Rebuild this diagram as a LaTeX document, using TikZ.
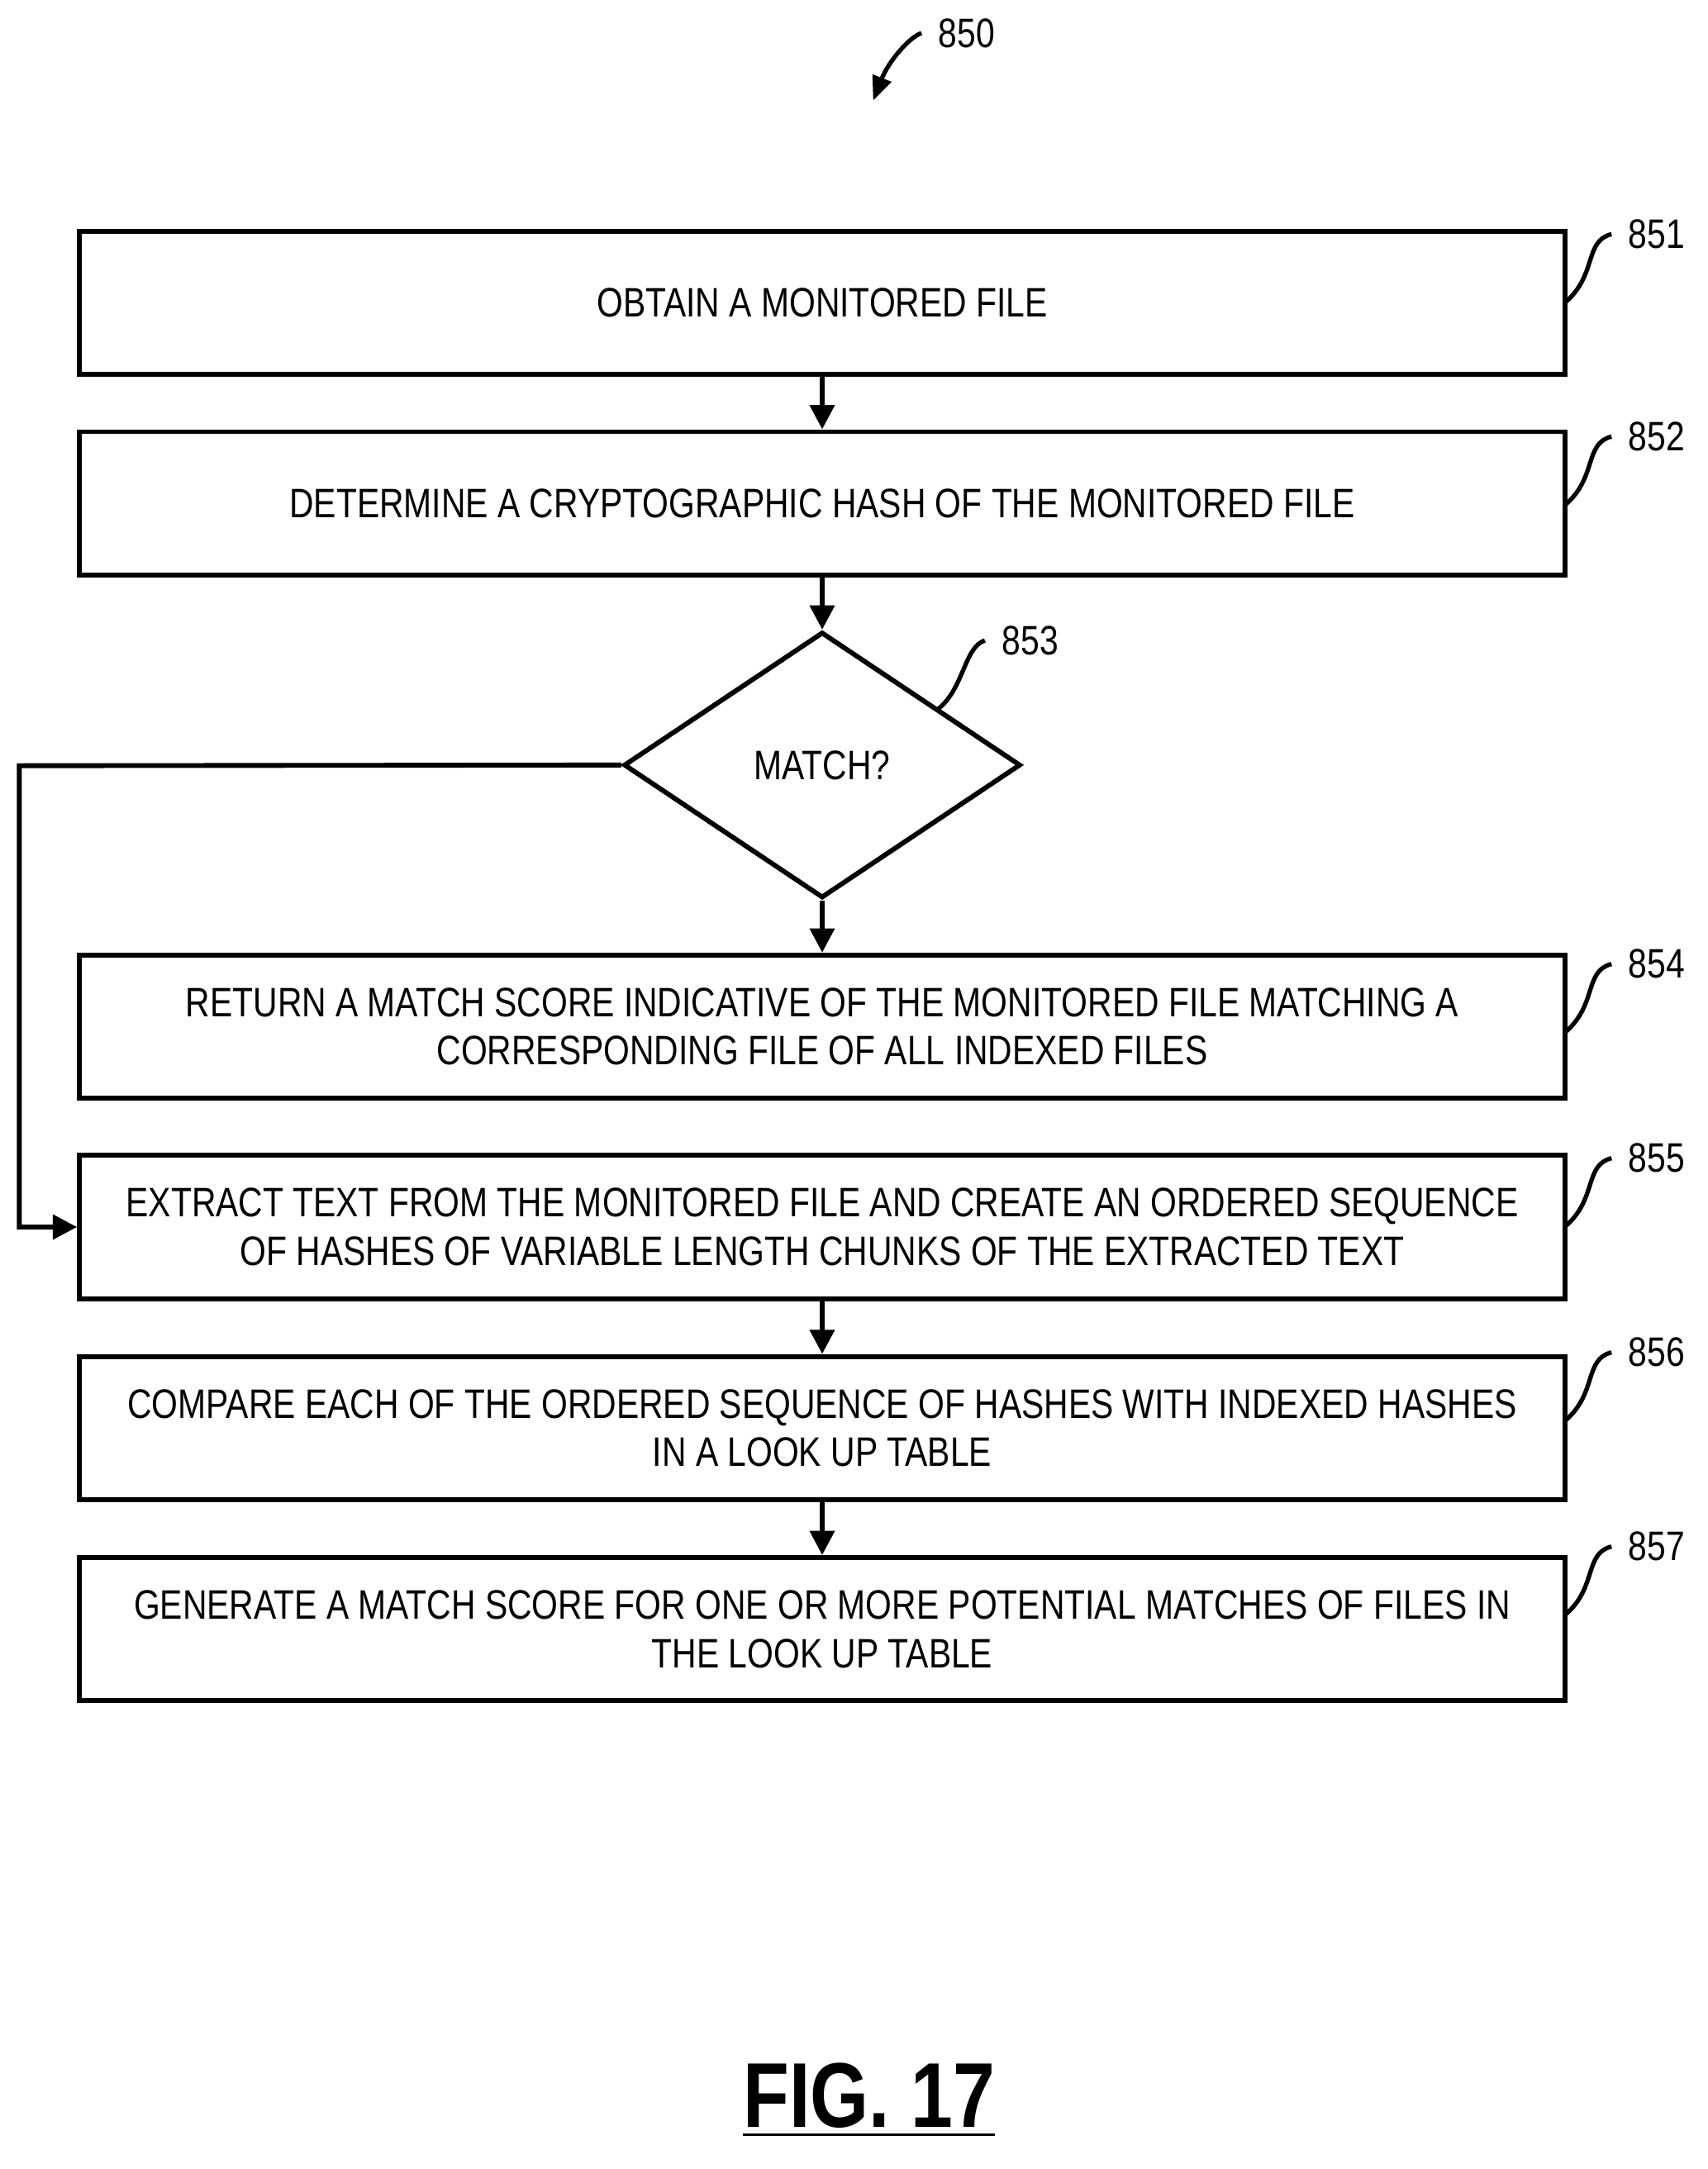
\documentclass[tikz,border=0pt]{standalone}
\usepackage{fontspec}
\setmainfont{Liberation Sans}[FakeStretch=0.82]
\usetikzlibrary{shapes.geometric,arrows.meta}
\begin{document}
\begin{tikzpicture}[x=0.01cm,y=-0.01cm,
  ar/.style={line width=1pt,-{Triangle[length=5pt,width=5pt]}},
  lead/.style={line width=0.9pt},
  lab/.style={font=\fontsize{8.5}{10}\selectfont},
  bx/.style={draw,line width=1pt,align=center,minimum width=10.78cm,minimum height=1.04cm,font=\fontsize{8.5}{10}\selectfont,inner sep=0pt}]
\useasboundingbox (0,0) rectangle (1240,1575);
\node[bx] (b1) at (597,220) {OBTAIN A MONITORED FILE};
\node[bx] (b2) at (597,365.5) {DETERMINE A CRYPTOGRAPHIC HASH OF THE MONITORED FILE};
\node[draw,line width=1pt,diamond,minimum width=2.88cm,minimum height=1.93cm,inner sep=0pt,font=\fontsize{8.5}{10}\selectfont] (d) at (597,555.5) {MATCH?};
\node[bx] (b4) at (597,745.5) {RETURN A MATCH SCORE INDICATIVE OF THE MONITORED FILE MATCHING A\\CORRESPONDING FILE OF ALL INDEXED FILES};
\node[bx] (b5) at (597,891) {EXTRACT TEXT FROM THE MONITORED FILE AND CREATE AN ORDERED SEQUENCE\\OF HASHES OF VARIABLE LENGTH CHUNKS OF THE EXTRACTED TEXT};
\node[bx] (b6) at (597,1037) {COMPARE EACH OF THE ORDERED SEQUENCE OF HASHES WITH INDEXED HASHES\\IN A LOOK UP TABLE};
\node[bx] (b7) at (597,1183) {GENERATE A MATCH SCORE FOR ONE OR MORE POTENTIAL MATCHES OF FILES IN\\THE LOOK UP TABLE};
\draw[ar] (b1) -- (b2);
\draw[ar] (b2) -- (d);
\draw[ar] (d) -- (b4);
\draw[ar] (b5) -- (b6);
\draw[ar] (b6) -- (b7);
\coordinate (c1) at (14,556);
\coordinate (c2) at (14,891);
\draw[ar] (d.west) -- (c1) -- (c2) -- (b5.west);
\foreach \n/\y/\t in {l1/170/851,l2/317/852,l4/700/854,l5/841/855,l6/982/856,l7/1123/857}{
  \node[lab] (\n) at (1203,\y) {\t};
  \draw[lead] (1136,\y+50) .. controls (1160,\y+30) and (1150,\y+5) .. (\n.west);
}
\node[lab] (l3) at (748,465) {853};
\draw[lead] (681,515) .. controls (700,500) and (700,470) .. (l3.west);
\node[lab] (l0) at (702,24) {850};
\draw[lead,-{Triangle[length=5pt,width=4pt]}] (l0.west) .. controls (660,27) and (645,45) .. (634,73);
\node[font=\bfseries\fontsize{19}{22}\selectfont] (fig) at (631,1525) {\underline{FIG. 17}};
\end{tikzpicture}
\end{document}
